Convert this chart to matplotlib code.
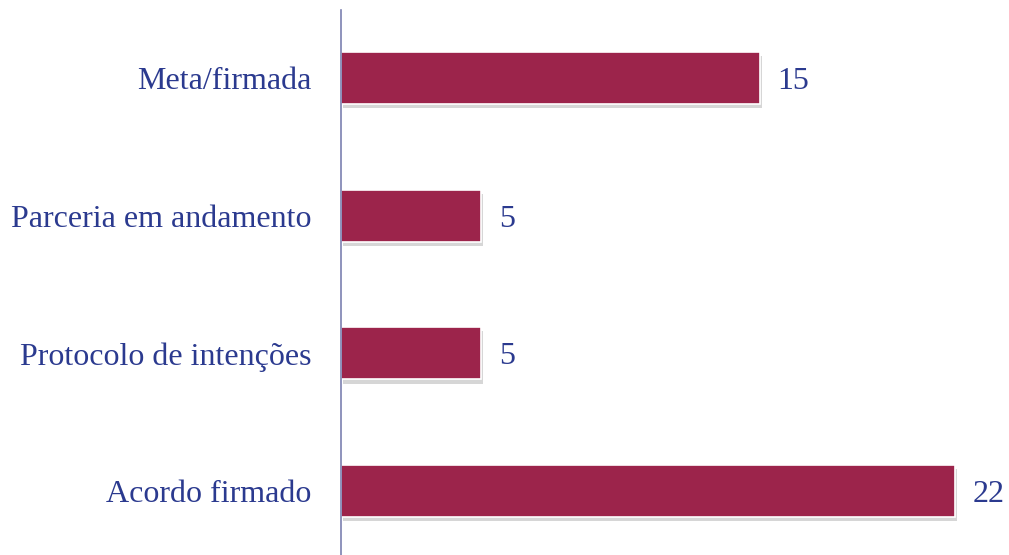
import matplotlib.pyplot as plt
import matplotlib.patheffects as pe

categories = ['Acordo firmado', 'Protocolo de intenções', 'Parceria em andamento', 'Meta/firmada']
values = [22, 5, 5, 15]

bar_color = '#9C244B'
text_color = '#2B3A8F'

plt.rcParams['font.family'] = ['Liberation Serif', 'DejaVu Serif']

fig = plt.figure(figsize=(10.09, 5.55), dpi=100)
ax = fig.add_axes([341 / 1009, 0.0, 668 / 1009, 545 / 555])

ypos = list(range(len(categories)))
bars = ax.barh(ypos, values, height=0.38, color=bar_color, edgecolor='white', linewidth=1.2)
for b in bars:
    b.set_path_effects([pe.SimplePatchShadow(offset=(1.5, -3), shadow_rgbFace='#999999', alpha=0.4),
                        pe.Normal()])

for y, v in zip(ypos, values):
    ax.text(v + 0.65, y, str(v), va='center_baseline', ha='left', fontsize=23, color=text_color)

ax.set_yticks(ypos)
ax.set_yticklabels(categories, fontsize=23, color=text_color)
ax.tick_params(axis='y', length=0, pad=21)
ax.set_xticks([])
ax.set_xlim(0, 23.94)
ax.set_ylim(-0.465, 3.494)

for s in ['top', 'right', 'bottom']:
    ax.spines[s].set_visible(False)
ax.spines['left'].set_color('#7C80B0')
ax.spines['left'].set_linewidth(1.2)

fig.savefig('out.png', dpi=100)
